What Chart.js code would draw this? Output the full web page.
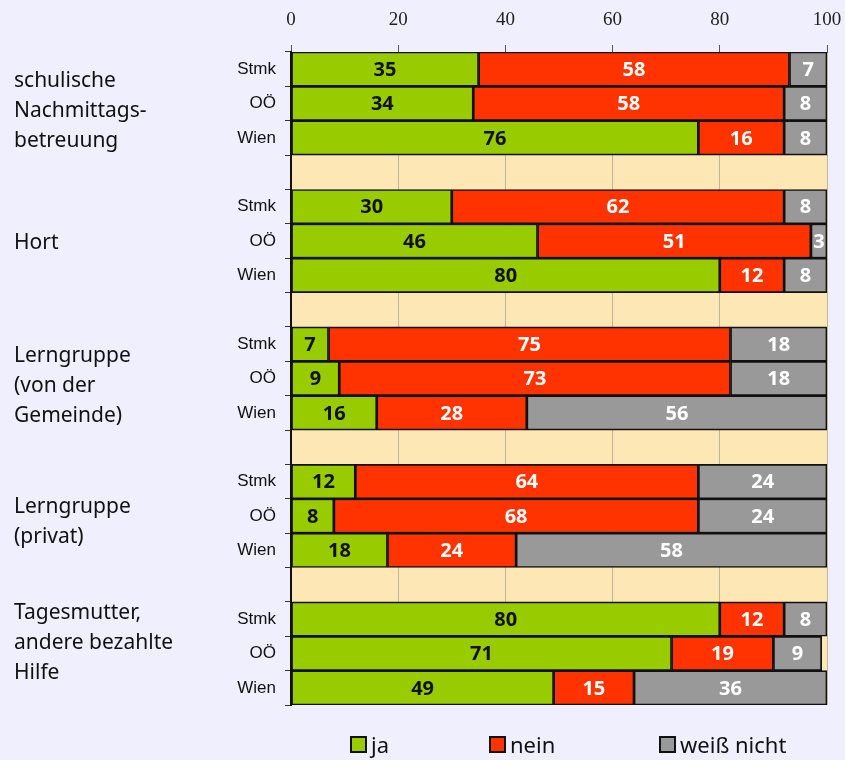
<!DOCTYPE html>
<html>
<head>
<meta charset="utf-8">
<script src="https://cdn.jsdelivr.net/npm/chart.js@4/dist/chart.umd.min.js"></script>
<style>
  body { margin: 0; background: #f0effd; }
  #wrap { position: relative; width: 845px; height: 760px; }
  #legend { position: absolute; left: 0; top: 728px; width: 845px; height: 32px; font-family: "Noto Sans", sans-serif; font-size: 22px; color: #111; }
  .item { position: absolute; top: 0; display: flex; align-items: center; height: 32px; }
  .box { width: 13px; height: 13px; border: 2px solid #111; margin-right: 4px; }
</style>
</head>
<body>
<div id="wrap">
  <canvas id="chart" width="845" height="760"></canvas>
  <div id="legend"></div>
</div>
<script>
// data
const regions = ['Stmk', 'OÖ', 'Wien'];
const groupLabels = [
    ['schulische', 'Nachmittags-', 'betreuung'],
    ['Hort'],
    ['Lerngruppe', '(von der', 'Gemeinde)'],
    ['Lerngruppe', '(privat)'],
    ['Tagesmutter,', 'andere bezahlte', 'Hilfe']
];
const ja = [35, 34, 76, 30, 46, 80, 7, 9, 16, 12, 8, 18, 80, 71, 49];
const nein = [58, 58, 16, 62, 51, 12, 75, 73, 28, 64, 68, 24, 12, 19, 15];
const weissNicht = [7, 8, 8, 8, 3, 8, 18, 18, 56, 24, 24, 58, 8, 9, 36];
const xTicks = [0, 20, 40, 60, 80, 100];

const seriesNames = ['ja', 'nein', 'weiß nicht'];
const seriesColors = ['#99cc00', '#ff3300', '#999999'];
const labelColors = ['#111111', '#ffffff', '#ffffff'];

// build rows with an empty spacer row between groups
const rowLabels = [];
const rowsJa = [], rowsNein = [], rowsWeiss = [];
groupLabels.forEach((g, gi) => {
    if (gi > 0) {
        rowLabels.push('');
        rowsJa.push(null); rowsNein.push(null); rowsWeiss.push(null);
    }
    regions.forEach((r, ri) => {
        const i = gi * 3 + ri;
        rowLabels.push(r);
        rowsJa.push(ja[i]); rowsNein.push(nein[i]); rowsWeiss.push(weissNicht[i]);
    });
});
const seriesRows = [rowsJa, rowsNein, rowsWeiss];

// small vertical nudges for the group captions
const groupShift = [7, 2, 8, 6, -10];

const plotBg = {
    id: 'plotBg',
    beforeDraw(chart) {
        const { ctx, chartArea: a } = chart;
        ctx.save();
        ctx.fillStyle = '#fde8b5';
        ctx.fillRect(a.left, a.top, a.right - a.left, a.bottom - a.top);
        ctx.restore();
    }
};

const barLabels = {
    id: 'barLabels',
    afterDatasetsDraw(chart) {
        const { ctx, chartArea: a } = chart;
        ctx.save();
        ctx.beginPath();
        ctx.rect(a.left, a.top, a.right - a.left + 1, a.bottom - a.top);
        ctx.clip();
        ctx.font = 'bold 20px "Noto Sans"';
        ctx.textAlign = 'center';
        ctx.textBaseline = 'middle';
        chart.data.datasets.forEach((ds, di) => {
            const meta = chart.getDatasetMeta(di);
            meta.data.forEach((el, i) => {
                const v = ds.data[i];
                if (v == null || v === 0) return;
                ctx.fillStyle = labelColors[di];
                ctx.fillText(String(v), (el.x + el.base) / 2, el.y + 1);
            });
        });
        ctx.restore();
    }
};

const groupText = {
    id: 'groupText',
    afterDraw(chart) {
        const { ctx } = chart;
        const y = chart.scales.y;
        ctx.save();
        ctx.font = '21px "Noto Sans"';
        ctx.fillStyle = '#111';
        ctx.textAlign = 'left';
        ctx.textBaseline = 'middle';
        groupLabels.forEach((lines, gi) => {
            const mid = y.getPixelForValue(gi * 4 + 1) + groupShift[gi];
            const lh = 30;
            const top = mid - (lines.length - 1) * lh / 2;
            lines.forEach((t, li) => ctx.fillText(t, 14, top + li * lh));
        });
        ctx.restore();
    }
};

new Chart(document.getElementById('chart'), {
    type: 'bar',
    data: {
        labels: rowLabels,
        datasets: seriesRows.map((d, i) => ({
            label: seriesNames[i],
            data: d,
            backgroundColor: seriesColors[i],
            borderColor: '#111',
            borderWidth: 1.7,
            borderSkipped: false,
            barPercentage: 1,
            categoryPercentage: 1
        }))
    },
    options: {
        indexAxis: 'y',
        responsive: false,
        animation: false,
        devicePixelRatio: 1,
        layout: { padding: { left: 0, right: 18, top: 0, bottom: 55 } },
        plugins: {
            legend: { display: false },
            tooltip: { enabled: false }
        },
        scales: {
            x: {
                position: 'top',
                stacked: true,
                min: 0,
                max: 100,
                afterBuildTicks: s => { s.ticks = xTicks.map(v => ({ value: v })); },
                afterFit: s => { s.height = 52; s.paddingLeft = 0; s.paddingRight = 0; },
                ticks: {
                    font: { family: 'Liberation Serif', size: 19 },
                    color: '#222',
                    padding: 14
                },
                grid: { color: '#bfb49c', tickColor: '#555', tickLength: 7 },
                border: { color: '#555' }
            },
            y: {
                stacked: true,
                afterFit: s => { s.width = 291; },
                ticks: {
                    font: { family: 'Liberation Sans', size: 17 },
                    color: '#111',
                    padding: 9,
                    autoSkip: false
                },
                grid: { drawOnChartArea: false, offset: true, tickColor: '#333', tickLength: 6 },
                border: { color: '#111', width: 2 }
            }
        }
    },
    plugins: [plotBg, barLabels, groupText]
});

// legend
const legend = document.getElementById('legend');
const legendX = [350, 489, 659];
seriesNames.forEach((n, i) => {
    const item = document.createElement('div');
    item.className = 'item';
    item.style.left = legendX[i] + 'px';
    item.innerHTML = `<span class="box" style="background:${seriesColors[i]}"></span><span>${n}</span>`;
    legend.appendChild(item);
});
</script>
</body>
</html>
